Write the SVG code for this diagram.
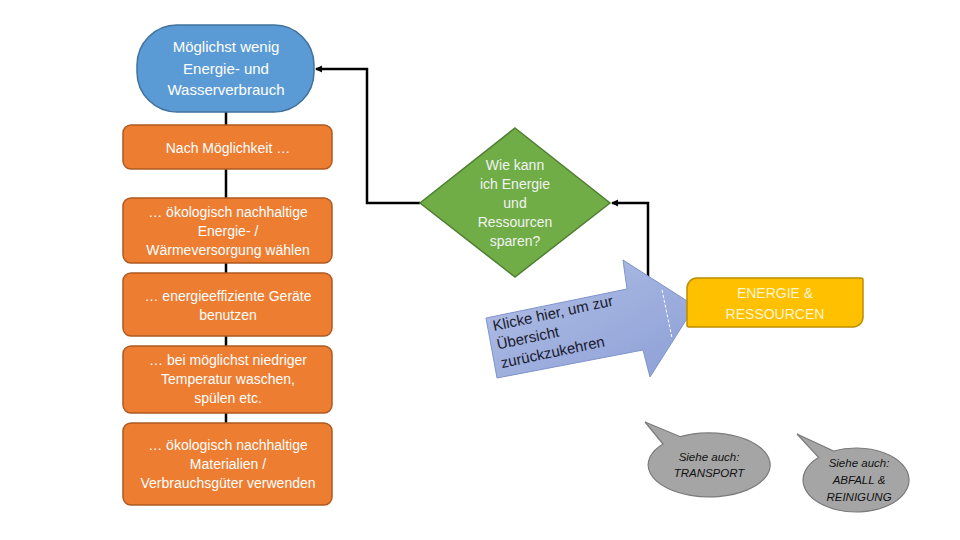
<svg xmlns="http://www.w3.org/2000/svg" width="960" height="540" viewBox="0 0 960 540">
<defs>
<style>
.t{font-family:"Liberation Sans",Arial,sans-serif;text-anchor:middle}
.w{fill:#ffffff;font-size:14px}
.o{fill:#ED7D31;stroke:#AE5A21;stroke-width:1.5}
.c{fill:none;stroke:#000;stroke-width:2.5}
.b{fill:#A5A5A5;stroke:#7B7B7B;stroke-width:1.2}
.i{font-style:italic;font-size:11.5px;fill:#111}
</style>
<marker id="ah" markerWidth="8" markerHeight="8" refX="6" refY="4" orient="auto" markerUnits="userSpaceOnUse">
<path d="M0,0.5 L7,4 L0,7.5 Z" fill="#000"/>
</marker>
<linearGradient id="ag" x1="0" y1="0" x2="1" y2="1">
<stop offset="0" stop-color="#B3C0E6"/>
<stop offset="1" stop-color="#8C9FD6"/>
</linearGradient>
</defs>
<rect width="960" height="540" fill="#fff"/>
<g id="connectors">
<line class="c" x1="226" y1="112" x2="226" y2="423"/>
<path class="c" d="M420,203 H367 V69 H316" marker-end="url(#ah)"/>
<path class="c" d="M648,277 V203 H612" marker-end="url(#ah)"/>
</g>
<g id="goal">
<rect x="137" y="25" width="177" height="87" rx="40" fill="#5B9BD5" stroke="#41719C" stroke-width="1.5"/>
<text class="t" fill="#fff" font-size="15"><tspan x="226" y="52">Möglichst wenig</tspan><tspan x="226" y="74">Energie- und</tspan><tspan x="226" y="95">Wasserverbrauch</tspan></text>
</g>
<g id="box1">
<rect class="o" x="123" y="125" width="209" height="44" rx="8"/>
<text class="t w"><tspan x="228" y="153">Nach Möglichkeit …</tspan></text>
</g>
<g id="box2">
<rect class="o" x="123" y="198" width="209" height="65" rx="8"/>
<text class="t w"><tspan x="228" y="217">… ökologisch nachhaltige</tspan><tspan x="228" y="236">Energie- /</tspan><tspan x="228" y="255">Wärmeversorgung wählen</tspan></text>
</g>
<g id="box3">
<rect class="o" x="123" y="273" width="209" height="63" rx="8"/>
<text class="t w"><tspan x="228" y="301">… energieeffiziente Geräte</tspan><tspan x="228" y="320">benutzen</tspan></text>
</g>
<g id="box4">
<rect class="o" x="123" y="346" width="209" height="67" rx="8"/>
<text class="t w"><tspan x="228" y="365">… bei möglichst niedriger</tspan><tspan x="228" y="384">Temperatur waschen,</tspan><tspan x="228" y="403">spülen etc.</tspan></text>
</g>
<g id="box5">
<rect class="o" x="123" y="423" width="209" height="82" rx="8"/>
<text class="t w"><tspan x="228" y="450">… ökologisch nachhaltige</tspan><tspan x="228" y="469">Materialien /</tspan><tspan x="228" y="488">Verbrauchsgüter verwenden</tspan></text>
</g>
<g id="question">
<polygon points="515,128 610,203 515,277 420,203" fill="#70AD47" stroke="#507E32" stroke-width="1.5"/>
<text class="t" fill="#F2F2F2" font-size="14"><tspan x="515" y="170">Wie kann</tspan><tspan x="515" y="189">ich Energie</tspan><tspan x="515" y="208">und</tspan><tspan x="515" y="227">Ressourcen</tspan><tspan x="515" y="246">sparen?</tspan></text>
</g>
<g id="back-arrow">
<polygon points="486,318 627,289 623,260 695,306 650,377 643,350 497,378" fill="url(#ag)" stroke="#7F93CC" stroke-width="1"/>
<line x1="662" y1="290" x2="672" y2="338" stroke="#fff" stroke-width="1" stroke-dasharray="3,2"/>
<text font-family="Liberation Sans,Arial,sans-serif" font-size="15" fill="#1A1A2E" transform="rotate(-12 494 331)"><tspan x="494" y="331">Klicke hier, um zur</tspan><tspan x="494" y="350">Übersicht</tspan><tspan x="494" y="369">zurückzukehren</tspan></text>
</g>
<g id="energie">
<path d="M697,278 H861 Q863,278 863,280 V317 A10,10 0 0 1 853,327 H689 Q687,327 687,325 V288 A10,10 0 0 1 697,278 Z" fill="#FFC000" stroke="#BC8C00" stroke-width="1.5"/>
<text class="t" fill="#FFF4D0" font-size="14"><tspan x="775" y="298">ENERGIE &amp;</tspan><tspan x="775" y="319">RESSOURCEN</tspan></text>
</g>
<g id="transport">
<path class="b" d="M663,444 L645,422 L680.4,436.7 A61,32 0 1 1 663,444 Z"/>
<text class="t i"><tspan x="709" y="461">Siehe auch:</tspan><tspan x="709" y="477">TRANSPORT</tspan></text>
</g>
<g id="abfall">
<path class="b" d="M818.5,457.4 L797,434 L833.6,451 A53,32 0 1 1 818.5,457.4 Z"/>
<text class="t i"><tspan x="859" y="467">Siehe auch:</tspan><tspan x="859" y="484">ABFALL &amp;</tspan><tspan x="859" y="501">REINIGUNG</tspan></text>
</g>
</svg>
